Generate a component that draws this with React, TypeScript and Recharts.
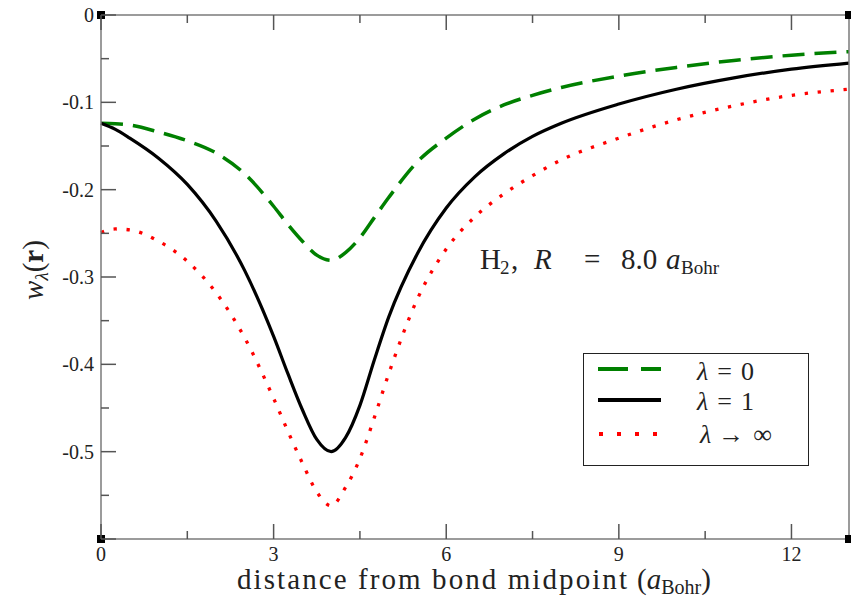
import React from "react";
import { LineChart, Line, XAxis, YAxis, ReferenceDot, Legend } from "recharts";

// distance from bond midpoint (a_Bohr)
const distance = [0, 0.25, 0.5, 1, 1.5, 2, 2.5, 3, 3.25, 3.5, 3.75, 4, 4.25, 4.5, 4.75, 5, 5.5, 6, 6.5, 7, 7.5, 8, 9, 10, 11, 12, 13];
// w_lambda(r) for lambda = 0, 1, infinity
const wLambda0 = [-0.124, -0.1245, -0.126, -0.134, -0.144, -0.158, -0.182, -0.219, -0.24, -0.259, -0.275, -0.281, -0.272, -0.255, -0.232, -0.209, -0.168, -0.141, -0.119, -0.103, -0.092, -0.083, -0.07, -0.06, -0.052, -0.046, -0.042];
const wLambda1 = [-0.124, -0.131, -0.141, -0.164, -0.194, -0.236, -0.293, -0.368, -0.411, -0.452, -0.486, -0.5, -0.484, -0.447, -0.395, -0.346, -0.273, -0.221, -0.185, -0.159, -0.139, -0.124, -0.102, -0.085, -0.072, -0.062, -0.055];
const wLambdaInf = [-0.249, -0.245, -0.246, -0.259, -0.282, -0.318, -0.37, -0.439, -0.477, -0.513, -0.546, -0.562, -0.541, -0.508, -0.461, -0.411, -0.325, -0.268, -0.231, -0.205, -0.184, -0.166, -0.141, -0.12, -0.104, -0.092, -0.085];

const xDomain = [0, 13];
const yDomain = [-0.6, 0];
const xMajor = [0, 3, 6, 9, 12];
const xMinor = [1.5, 4.5, 7.5, 10.5];
const yMajor = [0, -0.1, -0.2, -0.3, -0.4, -0.5, -0.6];
const yMinor = [-0.05, -0.15, -0.25, -0.35, -0.45, -0.55];
const yHiddenLabels = [-0.6];

const data = distance.map((d, i) => ({
  d,
  l0: wLambda0[i],
  l1: wLambda1[i],
  linf: wLambdaInf[i],
}));

const xTicks = [...xMajor, ...xMinor].sort((a, b) => a - b);
const yTicks = [...yMajor, ...yMinor].sort((a, b) => a - b);

const SERIF = '"Liberation Serif", "DejaVu Serif", serif';
const serif = { fontFamily: SERIF };
const AXIS = "#7a7a7a";
const TICK = "#555";
const GREEN = "#008000";
const RED = "#ff0000";

const near = (v: number, list: number[]) => list.some((m) => Math.abs(m - v) < 1e-9);

const BottomTick = (props: any) => {
  const { x, y, payload } = props;
  const major = near(payload.value, xMajor);
  return (
    <g>
      <line x1={x} x2={x} y1={y} y2={y - (major ? 15 : 8)} stroke={TICK} strokeWidth={1.5} />
      {major && (
        <text x={x} y={y + 22} textAnchor="middle" fontSize={20} style={serif} fill="#222">
          {payload.value}
        </text>
      )}
    </g>
  );
};

const TopTick = (props: any) => {
  const { x, y, payload } = props;
  const major = near(payload.value, xMajor);
  return <line x1={x} x2={x} y1={y} y2={y + (major ? 15 : 8)} stroke={TICK} strokeWidth={1.5} />;
};

const LeftTick = (props: any) => {
  const { x, y, payload } = props;
  const major = near(payload.value, yMajor);
  const v = payload.value as number;
  const label = Math.abs(v) < 1e-9 ? "0" : v.toFixed(1);
  return (
    <g>
      <line x1={x} x2={x + (major ? 15 : 8)} y1={y} y2={y} stroke={TICK} strokeWidth={1.5} />
      {major && !near(v, yHiddenLabels) && (
        <text x={x - 7} y={y + 7} textAnchor="end" fontSize={20} style={serif} fill="#222">
          {label}
        </text>
      )}
    </g>
  );
};

const RightTick = (props: any) => {
  const { x, y, payload } = props;
  const major = near(payload.value, yMajor);
  return <line x1={x} x2={x - (major ? 15 : 8)} y1={y} y2={y} stroke={TICK} strokeWidth={1.5} />;
};

const CornerSquare = (props: any) => {
  const { cx, cy } = props;
  if (cx == null || cy == null) return null;
  return <rect x={cx - 4} y={cy - 4} width={8} height={8} fill="#000" />;
};

const LegendBox = () => (
  <div
    style={{
      width: 226,
      height: 113,
      border: "1.5px solid #222",
      boxSizing: "border-box",
      background: "#fff",
    }}
  >
    <svg width={223} height={110} style={{ display: "block" }}>
      <line x1={14} x2={77} y1={15} y2={15} stroke={GREEN} strokeWidth={4} strokeDasharray="30 13" />
      <line x1={14} x2={77} y1={46} y2={46} stroke="#000" strokeWidth={4} />
      <line x1={15} x2={77} y1={80} y2={80} stroke={RED} strokeWidth={4} strokeDasharray="4 14" />
      <g style={serif} fontSize={26} fill="#222">
        <text x={113} y={26}>
          <tspan fontStyle="italic">λ</tspan>
          <tspan dx={9}>=</tspan>
          <tspan dx={9}>0</tspan>
        </text>
        <text x={113} y={56}>
          <tspan fontStyle="italic">λ</tspan>
          <tspan dx={9}>=</tspan>
          <tspan dx={9}>1</tspan>
        </text>
        <text x={116} y={89}>
          <tspan fontStyle="italic">λ</tspan>
          <tspan dx={7}>→</tspan>
          <tspan dx={9}>∞</tspan>
        </text>
      </g>
    </svg>
  </div>
);

export default function App() {
  return (
    <div style={{ position: "absolute", left: 0, top: 0, width: 851, height: 616, background: "#fff" }}>
      <LineChart width={851} height={616} data={data} margin={{ top: 0, right: 0, bottom: 0, left: 0 }}>
        <XAxis
          dataKey="d"
          type="number"
          domain={xDomain}
          ticks={xTicks}
          interval={0}
          height={77}
          tickSize={0}
          tickMargin={0}
          tickLine={false}
          tick={<BottomTick />}
          axisLine={{ stroke: AXIS, strokeWidth: 1.5 }}
        />
        <XAxis
          xAxisId="top"
          orientation="top"
          dataKey="d"
          type="number"
          domain={xDomain}
          ticks={xTicks}
          interval={0}
          height={15}
          tickSize={0}
          tickMargin={0}
          tickLine={false}
          tick={<TopTick />}
          axisLine={{ stroke: AXIS, strokeWidth: 1.5 }}
        />
        <YAxis
          type="number"
          domain={yDomain}
          ticks={yTicks}
          interval={0}
          width={101}
          tickSize={0}
          tickMargin={0}
          tickLine={false}
          tick={<LeftTick />}
          axisLine={{ stroke: AXIS, strokeWidth: 1.5 }}
        />
        <YAxis
          yAxisId="right"
          orientation="right"
          type="number"
          domain={yDomain}
          ticks={yTicks}
          interval={0}
          width={2}
          tickSize={0}
          tickMargin={0}
          tickLine={false}
          tick={<RightTick />}
          axisLine={{ stroke: AXIS, strokeWidth: 1.5 }}
        />
        <Legend
          layout="vertical"
          align="center"
          verticalAlign="middle"
          wrapperStyle={{ left: 583, top: 353, width: 226, height: 113 }}
          content={<LegendBox />}
        />
        <Line
          type="monotone"
          dataKey="l0"
          stroke={GREEN}
          strokeWidth={3.5}
          strokeDasharray="22 10"
          dot={false}
          activeDot={false}
          isAnimationActive={false}
        />
        <Line
          type="monotone"
          dataKey="l1"
          stroke="#000"
          strokeWidth={3.2}
          dot={false}
          activeDot={false}
          isAnimationActive={false}
        />
        <Line
          type="monotone"
          dataKey="linf"
          stroke={RED}
          strokeWidth={3.3}
          strokeDasharray="3.3 9.7"
          dot={false}
          activeDot={false}
          isAnimationActive={false}
        />
        {[xDomain[0], xDomain[1]].map((xv) =>
          [yDomain[0], yDomain[1]].map((yv) => (
            <ReferenceDot key={`${xv}-${yv}`} x={xv} y={yv} r={4} shape={<CornerSquare />} ifOverflow="visible" />
          ))
        )}
      </LineChart>
      <svg
        width={851}
        height={616}
        style={{ position: "absolute", left: 0, top: 0, pointerEvents: "none", fontFamily: SERIF }}
        fill="#222"
      >
        <text x={237} y={589} fontSize={29} textLength={390} lengthAdjust="spacing">
          distance from bond midpoint
        </text>
        <text x={637} y={589} fontSize={29}>
          (<tspan fontStyle="italic">a</tspan>
          <tspan fontSize={20} dy={5}>Bohr</tspan>
          <tspan dy={-5}>)</tspan>
        </text>
        <text transform="translate(43 270) rotate(-90)" textAnchor="middle" fontSize={29}>
          <tspan fontStyle="italic">w</tspan>
          <tspan fontSize={19} dy={5} fontStyle="italic">λ</tspan>
          <tspan dy={-5}>(</tspan>
          <tspan fontWeight="bold">r</tspan>
          <tspan>)</tspan>
        </text>
        <text y={269} fontSize={29}>
          <tspan x={480}>H</tspan>
          <tspan x={500} dy={5} fontSize={19}>2</tspan>
          <tspan x={511} dy={-5}>,</tspan>
          <tspan x={534} fontStyle="italic">R</tspan>
          <tspan x={584}>=</tspan>
          <tspan x={621}>8.0</tspan>
          <tspan x={666} fontStyle="italic">a</tspan>
          <tspan x={681} dy={5} fontSize={19}>Bohr</tspan>
        </text>
      </svg>
    </div>
  );
}
